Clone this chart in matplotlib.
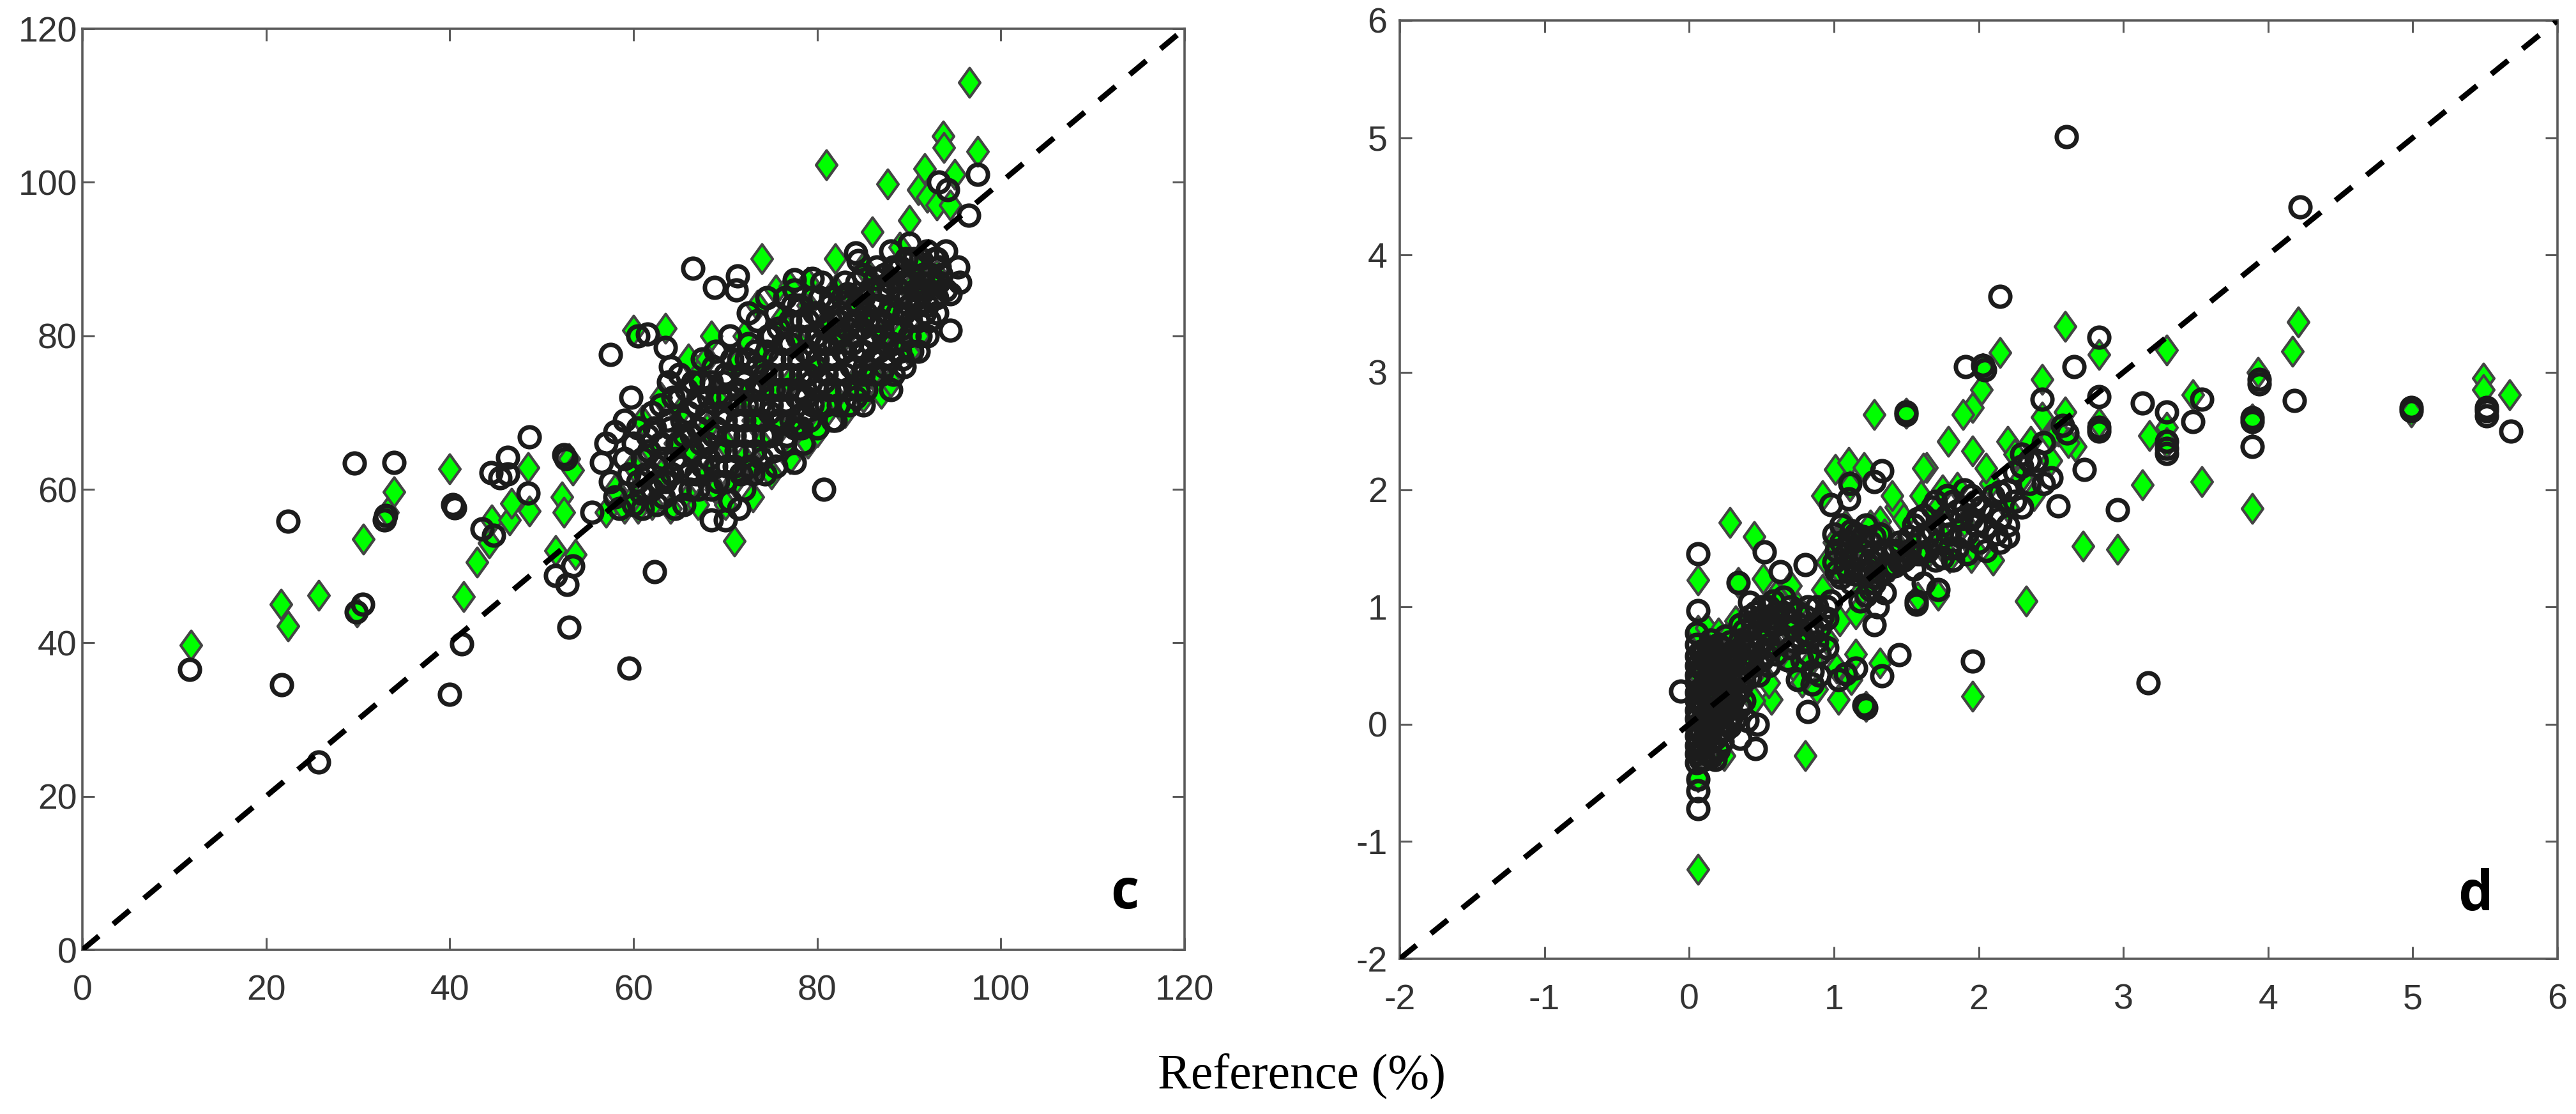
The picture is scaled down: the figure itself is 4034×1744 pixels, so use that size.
import matplotlib
matplotlib.use("Agg")
import matplotlib.pyplot as plt
from matplotlib.path import Path

# ---- panel c, (reference, estimate) ----
c_circles = [
    (11.7,36.5),(21.7,34.5),(22.4,55.8),(25.7,24.5),(29.6,63.4),(30.5,45),(29.8,44),(32.9,56),(33,56.6),(33.9,63.5),
    (40,33.3),(40.3,58),(40.5,57.6),(41.3,39.9),(43.5,54.8),(44.5,62.2),(44.8,54),(45.5,61.5),(46.3,64.2),(46.3,62),
    (48.5,59.5),(48.7,66.8),(51.5,48.8),(52.4,64.5),(52.8,47.6),(52.6,64),(53,42),(53.4,50),(59.5,36.7),(57.5,77.6),
    (59.7,72),(60.5,80),(61.5,80.2),(62.3,49.3),(66.5,88.8),(68.8,86.3),(71.3,87.8),(71.2,86),(70,56),(68.5,56),
    (71.5,57.5),(77.5,63.5),(80.7,60),(77.5,87.3),(79.5,87.5),(84.2,90.8),(84.5,89.8),(85,71),(88,73),(97.5,101),
    (96.5,95.7),(95.3,89),(94.5,80.7),(95.5,87),(94.5,85.5),(93.2,100),(94.2,99),(63.5,78.5),(64,76),(63.8,74),
    (55.5,57),(56.5,63.5),(57,66),(57.5,61),(58,67.5),(58,59),(58.5,57.5),(59,64),(59,69),(59.5,62),
    (60,58),(60,66),(60.5,68),(60.5,61),(61,64),(61,57.5),(61.5,67),(62,60),(62,70),(62.5,63),
    (62.5,58),(63,66),(63,71),(63.5,61),(64,68),(64.5,57.5),(64.5,64),(65,72),(65,60),(65,75),
    (65.5,58),(65.5,67),(66,62),(66,70),(66.5,65),(66.5,74),(67,60),(67,68),(67,72),(67.5,77),
    (67.5,63),(68,66),(68,70),(68.5,60),(68.5,74),(69,63),(69,68),(69,78),(69.5,72),(70,65),
    (70,61),(70,75),(70,69),(70.5,80),(70.5,58.5),(71,71),(71,67),(71,63),(71.5,77),(72,74),
    (72,60),(72,69),(72,65),(72.5,79),(72.5,83),(73,71),(73,67),(73,62),(73.5,76),(73.5,82),
    (74,73),(74,69),(74,64),(74.5,78),(74.5,85),(75,71),(75,67),(75,75),(75,80),(75.5,83),
    (75.5,63),(76,77),(76,69),(76,73),(76.5,85),(76.5,66),(77,79),(77,75),(77,71),(77,82),
    (77.5,68),(77.5,86),(78,77),(78,73),(78,80),(78,84),(78.5,70),(78.5,66),(79,82),(79,75),
    (79,78),(79.5,85),(79.5,71),(80,73),(80,80),(80,77),(80,83),(80,68),(80.5,87),(81,75),
    (81,79),(81,71),(81.5,82),(81.5,85),(82,77),(82,73),(82,69),(82.5,80),(82.5,83),(83,75),
    (83,87),(83,78),(83.5,71),(83.5,84),(84,80),(84,76),(84,82),(84.5,73),(85,78),(85,85),
    (85,88),(85,75),(85.5,82),(86,80),(86,77),(86,84),(86.5,89),(87,82),(87,75),(87,86),
    (87.5,79),(88,84),(88,77),(88,87),(88.5,81),(89,85),(89,89),(89,78),(89.5,83),(89.5,76),
    (90,87),(90,80),(90,84),(90.5,90),(91,85),(91,82),(91,78),(91.5,88),(92,84),(92,91),
    (92,80),(92.5,87),(93,85),(93,90),(93,83),(93.5,88),(94,91),(94,86),(90,92),(88,91),
]
c_circles_dense = [
    (60.8,59.5),(61.3,62),(61.7,65),(62.3,68),(62.8,61),(63.2,64),(63.3,59),(63.7,69),(64.2,62),(64.3,72),
    (64.8,66),(65.2,63),(65.3,69),(65.8,73),(66.2,60),(66.3,67),(66.8,71),(66.8,62),(67.3,66),(67.3,74),
    (67.7,69),(68.2,64),(68.2,72),(68.7,67),(68.7,76),(69.2,61),(69.3,65),(69.7,70),(69.8,74),(70.2,63),
    (70.3,67),(70.3,72),(70.7,77),(71.2,65),(71.3,69),(71.3,73),(71.7,62),(71.8,75),(72.2,67),(72.3,71),
    (72.3,77),(72.7,63),(72.8,73),(73.2,65),(73.3,69),(73.3,78),(73.8,74),(73.7,71),(74.2,67),(74.3,62),
    (74.3,75),(74.7,80),(74.8,70),(75.2,65),(75.2,73),(75.3,77),(75.7,69),(75.8,81),(76.2,71),(76.3,75),
    (76.3,79),(76.7,67),(76.8,73),(77.2,69),(77.3,77),(77.3,84),(77.8,72),(77.8,80),(78.2,75),(78.3,68),
    (78.3,82),(78.7,78),(78.8,72),(79.2,69),(79.2,80),(79.3,74),(79.7,83),(79.8,76),(80.2,71),(80.3,79),
    (80.3,85),(80.7,74),(80.8,81),(81.2,77),(81.3,73),(81.3,84),(81.7,69),(81.8,79),(82.2,75),(82.3,82),
    (82.3,71),(82.7,85),(82.8,78),(83.2,73),(83.3,81),(83.3,85.5),(83.7,76),(83.8,79),(84.2,72),(84.3,84),
    (84.3,87),(84.7,78),(84.8,81),(85.2,76),(85.3,83),(85.3,73),(85.7,86),(85.8,79),(86.2,75),(86.3,82),
    (86.3,87.5),(86.7,78),(86.8,84),(87.2,80),(87.3,76),(87.3,88),(87.7,83),(87.8,86),(88.2,79),(88.3,75),
    (88.3,89),(88.7,83),(88.8,86),(89.2,81),(89.3,77),(89.3,87),(89.7,90),(89.8,85),(90.2,82),(90.3,78),
    (90.3,88),(90.7,86),(90.8,84),(91.2,80),(91.3,87),(91.3,90),(91.7,83),(91.8,86),(92.2,82),(92.3,88),
    (92.7,85),(92.8,90),(93.2,87),(93.3,89),
]
c_diamonds = [
    (11.8,39.7),(21.6,45),(22.4,42.2),(25.7,46.2),(29.9,44),(30.6,53.5),(33.2,57),(33.9,59.7),(40,62.7),(41.5,46),
    (43,50.5),(44.3,53),(44.6,56),(46.5,56),(46.7,58.2),(48.5,62.8),(48.7,57.2),(51.5,52),(52.2,59),(52.4,57),
    (53,64),(53.4,62.5),(53.7,51.5),(57,57),(60,80.7),(60.5,57.5),(63.5,81),(68.5,80),(71,53.3),(74,90),
    (73.2,62.8),(81,102.3),(82,90),(86,93.5),(87.7,99.8),(90,95),(91,99),(91.7,101.8),(92,98),(93.7,106),
    (93.8,104.5),(96.6,113),(97.5,104),(95,101),(93,97),(94.5,97),(89,91.5),(85,89),(75.5,86),(77,86.5),
    (72,80),(58,60),(59,57.5),(60,63),(61,69),(62,65),(62,58),(63,62),(63,72),(64,57.5),
    (64.5,66),(65,70),(66,59),(66,65),(67,58),(67,75),(68,62),(68,68),(69,60),(69,72),
    (70,58),(70,66),(71,76),(71,61),(72,64),(72,72),(73,59),(73,69),(74,66),(74,77),
    (75,62),(75,73),(76,68),(76,82),(77,64),(77,74),(78,68),(78,79),(79,66),(79,84),
    (80,67.5),(80,76),(81,70),(81,82),(82,72),(82,86),(83,70),(83,80),(84,74),(84,85),
    (85,72),(85,82),(86,75),(86,87),(87,72.5),(87,80),(88,74),(88,84),(89,80),(90,78),
    (90,86),(91,80),(91,89),(92,86),(93,88),(73.5,84),(79,87),(66,77),(60,59),(68,77),
]

# ---- panel d ----
d_circles = [
    (2.607,5.01),(4.22,4.41),(2.15,3.65),(2.83,3.30),(1.91,3.05),(2.03,3.06),(2.04,3.02),(2.66,3.05),(2.83,2.79),(2.44,2.77),
    (3.13,2.74),(3.54,2.77),(3.30,2.66),(3.94,2.90),(3.94,2.94),(4.18,2.76),(3.48,2.58),(3.89,2.58),(3.89,2.61),(3.89,2.37),
    (3.30,2.41),(3.30,2.35),(3.30,2.31),(4.99,2.67),(4.99,2.70),(5.51,2.70),(5.51,2.63),(5.51,2.67),(5.68,2.50),(2.83,2.53),
    (2.83,2.50),(2.61,2.48),(2.73,2.17),(2.55,1.86),(2.96,1.83),(3.17,0.35),(1.96,0.54),(1.50,2.66),(1.50,2.64),(0.52,1.47),
    (0.63,1.30),(0.80,1.36),(1.33,2.16),(1.28,2.07),(1.11,2.05),(1.10,1.92),(0.98,1.87),(1.28,0.85),(0.34,1.21),(1.57,1.05),
    (1.57,1.02),(1.45,0.59),(0.82,0.11),(1.22,0.14),(1.21,0.16),(1.33,0.41),(1.03,0.38),(0.35,-0.12),(0.46,-0.21),(0.47,0.0),
    (0.40,0.03),(1.15,0.48),(1.08,0.43),(0.06,1.45),(0.06,0.97),(0.06,-0.72),(0.06,-0.57),(0.06,-0.47),(-0.06,0.28),(0.05,0.78),
    (0.05,-0.33),(0.05,-0.25),(0.05,-0.18),(0.05,-0.1),(0.05,-0.03),(0.05,0.05),(0.05,0.12),(0.05,0.2),(0.05,0.27),(0.05,0.35),
    (0.05,0.42),(0.05,0.5),(0.05,0.58),(0.05,0.68),(0.1,-0.3),(0.1,-0.2),(0.1,-0.12),(0.1,0.0),(0.1,0.08),(0.1,0.15),
    (0.1,0.25),(0.1,0.33),(0.1,0.45),(0.1,0.55),(0.1,0.62),(0.15,-0.28),(0.15,-0.15),(0.15,-0.05),(0.15,0.1),(0.15,0.18),
    (0.15,0.3),(0.15,0.38),(0.15,0.5),(0.15,0.6),(0.15,0.72),(0.2,-0.22),(0.2,-0.08),(0.2,0.05),(0.2,0.22),(0.2,0.35),
    (0.2,0.45),(0.2,0.55),(0.2,0.68),(0.25,-0.05),(0.25,0.1),(0.25,0.2),(0.25,0.32),(0.25,0.42),(0.25,0.6),(0.25,0.75),
    (0.3,0.08),(0.3,0.2),(0.3,0.35),(0.3,0.5),(0.3,0.62),(0.35,0.15),(0.35,0.3),(0.35,0.45),(0.35,0.55),(0.35,0.72),
    (0.35,0.85),(0.42,0.4),(0.42,0.6),(0.42,0.75),(0.42,0.92),(0.42,1.04),(0.48,0.42),(0.48,0.66),(0.48,0.82),(0.5,1.0),
    (0.52,0.6),(0.55,0.5),(0.55,0.9),(0.58,1.05),(0.62,0.72),(0.65,0.95),(0.68,0.55),(0.7,1.0),(0.72,0.82),(0.75,0.38),
    (0.78,0.7),(0.8,0.92),(0.82,0.6),(0.85,0.82),(0.85,0.34),(0.88,1.0),(0.9,0.6),(0.92,0.92),(0.95,0.65),(0.98,1.05),
    (1.0,1.38),(1.0,1.62),(1.02,1.48),(1.05,1.25),(1.05,1.7),(1.08,1.35),(1.1,1.55),(1.12,1.2),(1.15,1.42),(1.15,1.62),
    (1.18,1.05),(1.2,1.3),(1.2,1.48),(1.22,1.7),(1.25,1.15),(1.25,1.4),(1.28,1.6),(1.3,1.0),(1.3,1.25),(1.33,1.48),
    (1.35,1.12),(1.38,1.35),(1.42,1.48),(1.45,1.38),(1.5,1.42),(1.52,1.6),(1.55,1.32),(1.58,1.75),(1.6,1.45),(1.62,1.2),
    (1.65,1.6),(1.68,1.85),(1.7,1.4),(1.72,1.15),(1.75,1.7),(1.78,1.95),(1.8,1.5),(1.82,1.4),(1.85,1.82),(1.88,1.6),
    (1.9,2.0),(1.92,1.45),(1.95,1.75),(1.98,1.9),(2.0,1.55),(2.05,1.48),(2.1,1.8),(2.12,1.62),(2.15,1.98),(2.2,1.7),
    (2.25,2.15),(2.3,1.85),(2.35,2.05),(2.4,2.25),(2.45,2.4),(2.5,2.1),(2.58,2.55),(2.2,1.6),(2.15,1.55),(2.3,2.3),
]
d_circles_dense = [
    (0.08,-0.3),(0.08,-0.22),(0.08,-0.08),(0.08,0.02),(0.08,0.18),(0.08,0.3),(0.08,0.48),(0.08,0.62),(0.13,-0.25),(0.13,-0.08),
    (0.13,0.06),(0.13,0.22),(0.13,0.42),(0.13,0.55),(0.13,0.66),(0.18,-0.3),(0.18,-0.12),(0.18,0.02),(0.18,0.14),(0.18,0.27),
    (0.18,0.42),(0.18,0.62),(0.23,-0.15),(0.23,0.0),(0.23,0.15),(0.23,0.28),(0.23,0.5),(0.23,0.65),(0.28,-0.02),(0.28,0.14),
    (0.28,0.27),(0.28,0.42),(0.28,0.56),(0.28,0.7),(0.32,0.05),(0.32,0.25),(0.32,0.4),(0.32,0.58),(0.38,0.2),(0.38,0.38),
    (0.38,0.52),(0.38,0.65),(0.38,0.8),(0.44,0.5),(0.44,0.68),(0.44,0.85),(0.46,0.95),(0.5,0.55),(0.5,0.72),(0.5,0.9),
    (0.55,0.68),(0.55,0.8),(0.55,1.0),(0.6,0.6),(0.6,0.85),(0.6,0.95),(0.65,0.75),(0.65,1.08),(0.7,0.65),(0.7,0.88),
    (0.75,0.75),(0.75,0.95),(0.78,0.55),(0.82,0.78),(0.82,1.0),(0.85,0.45),(0.88,0.7),(0.9,0.82),(0.9,0.42),(0.95,0.9),
    (0.95,1.0),(1.02,1.3),(1.05,1.55),(1.08,1.45),(1.1,1.3),(1.12,1.65),(1.15,1.28),(1.18,1.4),(1.2,1.6),(1.22,1.1),
    (1.25,1.3),(1.25,1.55),(1.28,1.2),(1.3,1.42),(1.32,1.62),(1.35,1.3),(1.4,1.45),(1.42,1.35),(1.45,1.55),(1.48,1.4),
    (1.52,1.48),(1.55,1.7),(1.58,1.45),(1.6,1.6),(1.62,1.78),(1.65,1.48),(1.68,1.65),(1.7,1.9),(1.72,1.55),(1.75,1.42),
    (1.78,1.78),(1.8,1.62),(1.82,1.9),(1.85,1.5),(1.88,1.75),(1.9,1.85),(1.92,1.62),(1.95,1.95),(1.98,1.7),(2.02,1.85),
    (2.05,1.68),(2.1,1.95),(2.15,1.75),(2.2,2.0),(2.25,1.9),(2.3,2.2),(2.35,2.25),(2.45,2.05),
]
d_diamonds = [
    (2.60,3.39),(4.21,3.43),(4.17,3.18),(3.30,3.19),(2.15,3.17),(2.83,3.15),(2.03,3.03),(2.44,2.94),(2.02,2.85),(3.93,3.0),
    (5.49,2.95),(5.49,2.85),(5.67,2.81),(1.96,2.70),(1.89,2.64),(3.48,2.81),(2.60,2.66),(2.44,2.62),(2.83,2.57),(3.30,2.53),
    (3.89,2.6),(4.99,2.66),(2.50,2.45),(3.18,2.46),(3.30,2.40),(2.20,2.41),(1.79,2.41),(1.96,2.33),(2.67,2.37),(3.13,2.04),
    (3.54,2.07),(3.89,1.84),(2.08,2.05),(2.36,2.41),(1.64,2.19),(2.72,1.52),(2.96,1.49),(2.33,1.05),(1.96,0.24),(0.80,-0.27),
    (1.95,1.42),(0.28,1.72),(0.45,1.60),(0.51,1.24),(0.34,1.21),(1.28,2.64),(1.50,2.65),(1.01,2.17),(1.10,2.23),(1.21,2.19),
    (0.92,1.95),(1.11,2.03),(1.04,0.88),(1.15,0.94),(0.57,0.21),(1.03,0.21),(1.22,0.15),(1.32,0.52),(1.15,0.60),(1.62,2.18),
    (1.43,1.85),(1.32,1.73),(1.97,1.49),(0.06,1.23),(0.06,-1.24),(0.24,-0.27),(0.06,-0.45),(0.06,0.8),(0.12,0.82),(0.2,0.78),
    (0.28,0.78),(0.32,0.88),(0.1,-0.15),(0.15,0.2),(0.08,0.4),(0.2,0.5),(0.3,0.3),(0.4,0.55),(0.45,0.2),(0.5,0.78),
    (0.55,0.35),(0.58,0.95),(0.6,1.1),(0.62,0.62),(0.68,0.82),(0.7,1.18),(0.72,0.5),(0.75,1.0),(0.78,0.36),(0.8,0.75),
    (0.85,0.55),(0.88,0.3),(0.92,1.15),(0.95,0.72),(0.95,1.38),(1.0,1.55),(1.02,0.48),(1.05,1.3),(1.08,1.7),(1.1,1.45),
    (1.12,0.38),(1.18,1.55),(1.2,1.15),(1.25,1.7),(1.28,1.32),(1.35,1.62),(1.4,1.35),(1.45,1.5),(1.48,1.75),(1.55,1.52),
    (1.58,1.08),(1.6,1.95),(1.65,1.45),(1.7,1.82),(1.72,1.1),(1.75,1.6),(1.8,1.42),(1.85,2.02),(1.9,1.72),(2.05,2.18),
    (2.1,1.4),(2.2,1.85),(2.25,2.3),(2.3,2.1),(2.38,1.95),(2.5,2.25),(2.55,2.5),(2.62,2.4),(1.75,2.0),(1.4,1.95),
]

c_ticks = [0, 20, 40, 60, 80, 100, 120]
d_ticks = [-2, -1, 0, 1, 2, 3, 4, 5, 6]
c_lim = [0, 120]
d_lim = [-2, 6]

W, H = 4034, 1744
GREEN = "#00ff00"
DIA_EDGE = "#444444"
CIRC_EDGE = "#1c1c1c"
SPINE = "#5a5a5a"
TEXT = "#333333"

DIAMOND = Path([(0, -1), (0.72, 0), (0, 1), (-0.72, 0), (0, -1)], closed=True)

plt.rcParams["font.family"] = ["Liberation Sans", "DejaVu Sans"]
fig = plt.figure(figsize=(W / 100, H / 100), dpi=100, facecolor="white")


def panel(box, circles, diamonds, lim, ticks, letter, letter_pos, ypad):
    l, t, r, b = box
    ax = fig.add_axes([l / W, 1 - b / H, (r - l) / W, (b - t) / H])
    ax.plot([p[0] for p in diamonds], [p[1] for p in diamonds], ls="none", marker=DIAMOND, ms=33,
            mfc=GREEN, mec=DIA_EDGE, mew=3, zorder=2)
    ax.plot([p[0] for p in circles], [p[1] for p in circles], ls="none", marker="o", ms=22.5,
            mfc="none", mec=CIRC_EDGE, mew=5, zorder=3)
    ax.plot(lim, lim, color="black", lw=6.2, ls=(0, (3.9, 3.4)), zorder=4)
    ax.set_xlim(lim)
    ax.set_ylim(lim)
    ax.set_xticks(ticks)
    ax.set_yticks(ticks)
    labels = [str(v) for v in ticks]
    ax.set_xticklabels(labels)
    ax.set_yticklabels(labels)
    ax.tick_params(axis="both", direction="in", top=True, right=True, length=14, width=2.2,
                   color=SPINE, labelcolor=TEXT, labelsize=40)
    ax.tick_params(axis="x", pad=28)
    ax.tick_params(axis="y", pad=ypad)
    for s in ax.spines.values():
        s.set_color(SPINE)
        s.set_linewidth(2.6)
    ax.text(letter_pos[0], letter_pos[1], letter, transform=ax.transAxes, ha="center", va="baseline",
            fontsize=62, fontweight="bold", family="Open Sans", color="black")
    return ax


panel((129, 45, 1855, 1487), c_circles + c_circles_dense, c_diamonds, c_lim, c_ticks, "c", (0.9455, 0.045), 6)
panel((2192, 32, 4005, 1501), d_circles + d_circles_dense, d_diamonds, d_lim, d_ticks, "d", (0.929, 0.052), 14)

fig.text(2038 / W, 1 - 1703 / H, "Reference (%)", ha="center", va="baseline",
         fontsize=56, family="Liberation Serif", color="black")

fig.savefig("out.png", dpi=100, facecolor="white")
